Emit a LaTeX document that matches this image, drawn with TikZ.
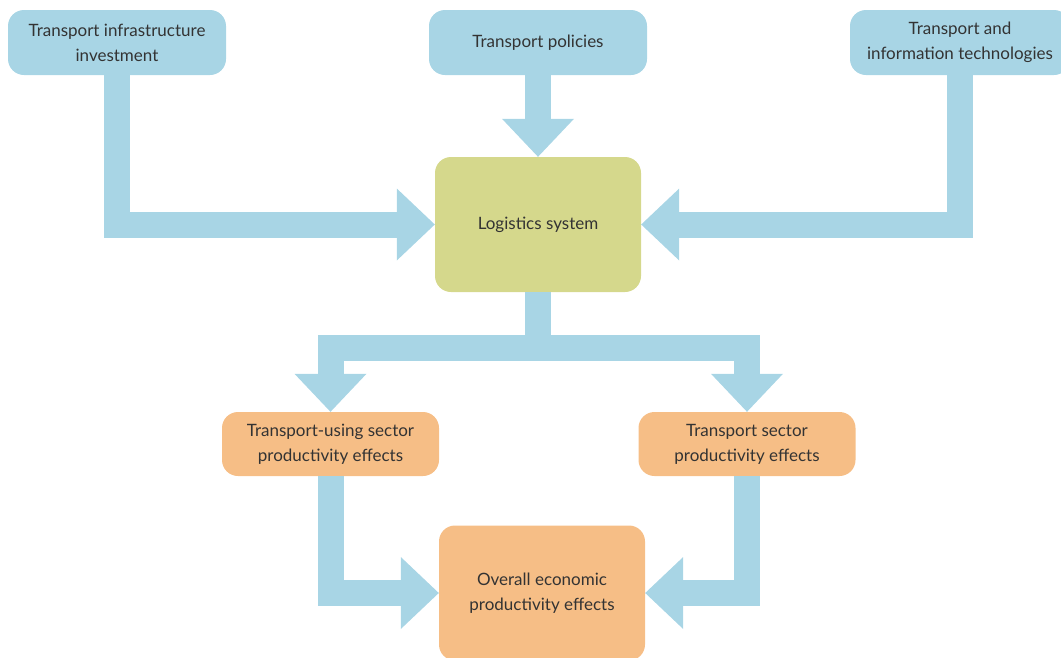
\documentclass[tikz,border=0pt]{standalone}
\usepackage{fontspec}
\setmainfont{Lato}
\usetikzlibrary{arrows.meta}
\definecolor{flowblue}{HTML}{A8D5E5}
\definecolor{boxgreen}{HTML}{D5D88C}
\definecolor{boxorange}{HTML}{F6BE86}
\definecolor{textgray}{HTML}{333333}
\begin{document}
\begin{tikzpicture}[
    x = 1pt,
    y = -1pt,
    box/.style = {rounded corners=16pt, text=textgray, align=center,
      font=\fontsize{17}{25}\selectfont, inner sep=0pt},
    inputbox/.style = {box, fill=flowblue, minimum width=218pt,
      minimum height=65pt},
    centrebox/.style = {box, fill=boxgreen, minimum width=206pt,
      minimum height=135pt},
    effectbox/.style = {box, fill=boxorange, minimum width=217pt,
      minimum height=64pt},
    flow/.style = {draw=flowblue, line width=26pt, line join=miter,
      -{Triangle[length=38pt, width=72pt, line width=0pt, fill=flowblue]}},
    ]
    \useasboundingbox (0,0) rectangle (1061,657);
    \clip (0,0) rectangle (1061,657);
    % input boxes
    \node[inputbox] (tii) at (117, 42.5)
    {Transport infrastructure\\investment};
    \node[inputbox] (pol) at (538, 42.5) {Transport policies};
    \node[inputbox, minimum width=220pt] (itt) at (960, 42.5)
    {Transport and\\information technologies};
    % logistics
    \node[centrebox] (log) at (538, 224.5) {Logistics system};
    % effects
    \node[effectbox] (tus) at (330.5, 444)
    {Transport-using sector\\productivity effects};
    \node[effectbox] (tsp) at (747, 444)
    {Transport sector\\productivity effects};
    \node[centrebox, fill=boxorange] (ove) at (542, 593)
    {Overall economic\\productivity effects};
    % arrows into logistics
    \draw[flow] (tii.south) |- (log.west);
    \draw[flow] (pol.south) -- (log.north);
    \draw[flow] (itt.south) |- (log.east);
    % split
    \coordinate (fork) at ([yshift=-56pt]log.south);
    \draw[flow] (log.south) -- (fork) -| (tus.north);
    \draw[flow] (log.south) -- (fork) -| (tsp.north);
    % arrows into overall effects
    \draw[flow] (tus.south) |- (ove.west);
    \draw[flow] (tsp.south) |- (ove.east);
  \end{tikzpicture}
\end{document}
